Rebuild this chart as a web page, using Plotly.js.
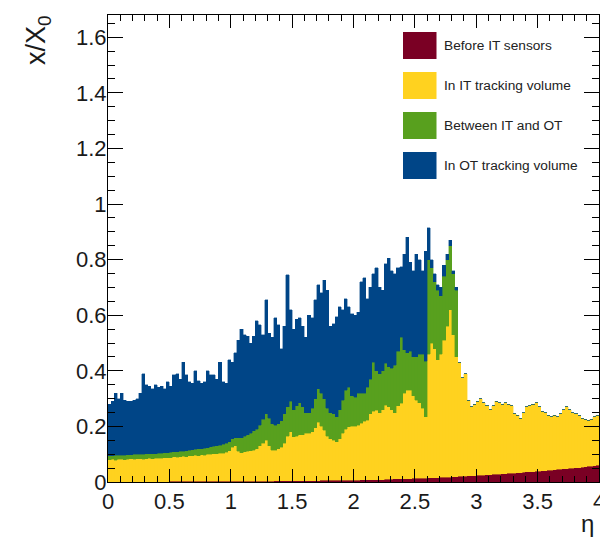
<!DOCTYPE html>
<html>
<head>
<meta charset="utf-8">
<script src="https://cdn.plot.ly/plotly-3.0.1.min.js"></script>
<style>
  html, body { margin: 0; padding: 0; background: #ffffff; }
  #chart { width: 600px; height: 539px; }
</style>
</head>
<body>
<div id="chart"></div>
<script>
// Material budget (x/X0) versus pseudorapidity, stacked by detector region.
// Histogram binning: 160 bins over 0 < eta < 4.
const ETA_MIN = 0;
const ETA_MAX = 4;
const N_BINS = 160;

const seriesNames = ["Before IT sensors", "In IT tracking volume", "Between IT and OT", "In OT tracking volume"];
const seriesColors = ["#7a0024", "#ffd21f", "#58a01e", "#004587"];

// Per-bin contributions of each region
const beforeIT = [
  0.001,0.001,0.001,0.001,0.001,0.001,0.001,0.001,0.001,0.001,0.001,0.001,0.001,0.001,0.001,0.001,0.001,0.001,0.001,0.001,
  0.002,0.002,0.002,0.002,0.002,0.002,0.002,0.002,0.002,0.002,0.002,0.002,0.002,0.002,0.002,0.002,0.002,0.002,0.002,0.002,
  0.002,0.002,0.002,0.002,0.003,0.003,0.003,0.003,0.003,0.003,0.003,0.003,0.003,0.003,0.004,0.004,0.004,0.004,0.004,0.004,
  0.004,0.004,0.004,0.005,0.005,0.005,0.005,0.005,0.005,0.006,0.006,0.006,0.006,0.006,0.006,0.007,0.007,0.007,0.007,0.007,
  0.007,0.007,0.008,0.008,0.008,0.008,0.009,0.009,0.009,0.009,0.010,0.010,0.010,0.011,0.011,0.011,0.012,0.012,0.012,0.013,
  0.013,0.013,0.014,0.014,0.015,0.015,0.016,0.016,0.017,0.017,0.018,0.018,0.019,0.019,0.020,0.020,0.021,0.022,0.022,0.023,
  0.024,0.024,0.025,0.026,0.026,0.027,0.028,0.028,0.029,0.030,0.031,0.032,0.032,0.033,0.034,0.035,0.036,0.036,0.037,0.038,
  0.039,0.040,0.041,0.042,0.043,0.044,0.045,0.046,0.047,0.048,0.049,0.050,0.051,0.052,0.053,0.054,0.056,0.057,0.059,0.060
];

const inIT = [
  0.079,0.080,0.078,0.080,0.081,0.079,0.081,0.082,0.080,0.082,0.083,0.081,0.083,0.084,0.083,0.085,0.085,0.084,0.086,0.087,
  0.086,0.088,0.087,0.089,0.090,0.089,0.092,0.092,0.094,0.093,0.096,0.095,0.098,0.097,0.100,0.099,0.102,0.101,0.105,0.110,
  0.123,0.128,0.108,0.103,0.105,0.107,0.109,0.112,0.117,0.127,0.137,0.147,0.127,0.112,0.111,0.116,0.121,0.136,0.161,0.176,
  0.158,0.161,0.166,0.165,0.170,0.171,0.175,0.190,0.210,0.194,0.181,0.159,0.149,0.144,0.139,0.148,0.168,0.183,0.191,0.193,
  0.193,0.198,0.204,0.210,0.215,0.237,0.246,0.250,0.241,0.251,0.267,0.260,0.250,0.239,0.264,0.273,0.308,0.318,0.318,0.297,
  0.282,0.272,0.251,0.221,0.445,0.485,0.464,0.424,0.443,0.493,0.542,0.602,0.511,0.431,0.410,0.355,0.369,0.273,0.248,0.257,
  0.266,0.276,0.260,0.249,0.234,0.248,0.262,0.257,0.251,0.255,0.249,0.243,0.213,0.207,0.196,0.215,0.234,0.239,0.243,0.247,
  0.231,0.215,0.209,0.198,0.192,0.196,0.190,0.199,0.213,0.222,0.211,0.200,0.194,0.188,0.177,0.171,0.166,0.168,0.176,0.180
];

const betweenITOT = [
  0.015,0.014,0.017,0.015,0.015,0.017,0.016,0.015,0.018,0.016,0.016,0.018,0.017,0.016,0.018,0.016,0.017,0.019,0.018,0.018,
  0.019,0.018,0.020,0.019,0.019,0.022,0.020,0.022,0.021,0.024,0.022,0.025,0.024,0.027,0.026,0.029,0.029,0.033,0.032,0.033,
  0.030,0.030,0.050,0.055,0.057,0.060,0.063,0.070,0.070,0.075,0.085,0.095,0.100,0.095,0.090,0.090,0.095,0.105,0.105,0.110,
  0.098,0.110,0.115,0.100,0.075,0.074,0.085,0.105,0.120,0.120,0.113,0.100,0.095,0.095,0.090,0.105,0.120,0.140,0.142,0.110,
  0.105,0.115,0.108,0.102,0.117,0.125,0.175,0.141,0.140,0.140,0.151,0.145,0.150,0.170,0.195,0.236,0.155,0.135,0.140,0.140,
  0.155,0.175,0.195,0.200,0.340,0.270,0.240,0.250,0.210,0.230,0.240,0.230,0.220,0.240,0.000,0.000,0.000,0.000,0.000,0.000,
  0.000,0.000,0.000,0.000,0.000,0.000,0.000,0.000,0.000,0.000,0.000,0.000,0.000,0.000,0.000,0.000,0.000,0.000,0.000,0.000,
  0.000,0.000,0.000,0.000,0.000,0.000,0.000,0.000,0.000,0.000,0.000,0.000,0.000,0.000,0.000,0.000,0.000,0.000,0.000,0.000
];

const inOT = [
  0.185,0.195,0.224,0.204,0.223,0.198,0.192,0.192,0.196,0.201,0.220,0.290,0.249,0.244,0.233,0.248,0.237,0.241,0.230,0.254,
  0.238,0.277,0.281,0.260,0.319,0.272,0.246,0.239,0.283,0.246,0.235,0.238,0.276,0.259,0.257,0.240,0.297,0.224,0.216,0.295,
  0.275,0.305,0.350,0.390,0.365,0.355,0.325,0.340,0.390,0.360,0.305,0.410,0.305,0.310,0.385,0.355,0.260,0.315,0.475,0.330,
  0.290,0.310,0.305,0.290,0.270,0.350,0.325,0.355,0.375,0.360,0.425,0.425,0.310,0.325,0.360,0.370,0.325,0.330,0.290,0.295,
  0.295,0.290,0.400,0.415,0.320,0.330,0.320,0.370,0.310,0.290,0.357,0.390,0.350,0.330,0.300,0.255,0.345,0.415,0.320,0.310,
  0.370,0.340,0.300,0.395,0.115,0.030,0.030,0.020,0.030,0.040,0.020,0.020,0.010,0.010,0.000,0.000,0.000,0.000,0.000,0.000,
  0.000,0.000,0.000,0.000,0.000,0.000,0.000,0.000,0.000,0.000,0.000,0.000,0.000,0.000,0.000,0.000,0.000,0.000,0.000,0.000,
  0.000,0.000,0.000,0.000,0.000,0.000,0.000,0.000,0.000,0.000,0.000,0.000,0.000,0.000,0.000,0.000,0.000,0.000,0.000,0.000
];

const seriesValues = [beforeIT, inIT, betweenITOT, inOT];

// Bin centres
const binWidth = (ETA_MAX - ETA_MIN) / N_BINS;
const eta = Array.from({ length: N_BINS }, (_, i) => ETA_MIN + (i + 0.5) * binWidth);

const traces = seriesValues.map((vals, k) => ({
  type: "bar",
  name: seriesNames[k],
  x: eta,
  y: vals,
  width: binWidth,
  marker: { color: seriesColors[k], line: { width: 0.4, color: seriesColors[k] } },
  showlegend: false,
  hoverinfo: "x+y+name"
}));

// Frame geometry in pixels
const W = 600, H = 539;
const M = { l: 108, r: 1, t: 15, b: 57 };
const plotW = W - M.l - M.r;
const plotH = H - M.t - M.b;
const px = (x) => (x - M.l) / plotW;          // pixel x -> paper x
const py = (y) => (H - M.b - y) / plotH;      // pixel y -> paper y

const FONT = "Liberation Sans, Arial, Helvetica, sans-serif";
const tickFont = { family: FONT, size: 22, color: "#1a1a1a" };

// Legend drawn as filled boxes with labels, ROOT style
const shapes = [];
const annotations = [];
seriesNames.forEach((name, k) => {
  const top = 32 + 40 * k;
  shapes.push({
    type: "rect", xref: "paper", yref: "paper",
    x0: px(403), x1: px(436.5), y0: py(top + 27), y1: py(top),
    fillcolor: seriesColors[k], line: { width: 0 }, layer: "above"
  });
  annotations.push({
    xref: "paper", yref: "paper", x: px(442), y: py(top + 13.5),
    xanchor: "left", yanchor: "middle", showarrow: false,
    text: name,
    font: { family: FONT, size: 13.7, color: "#222222" }
  });
});

// Axis titles placed at the axis ends
annotations.push({
  xref: "paper", yref: "paper", x: px(38), y: py(13),
  xanchor: "center", yanchor: "top", showarrow: false, textangle: -90,
  text: "x/X<sub>0</sub>",
  font: { family: FONT, size: 27, color: "#1a1a1a" }
});
annotations.push({
  xref: "paper", yref: "paper", x: px(596), y: py(523),
  xanchor: "right", yanchor: "middle", showarrow: false,
  text: "η",
  font: { family: FONT, size: 24, color: "#1a1a1a" }
});

const layout = {
  width: W, height: H,
  margin: M,
  paper_bgcolor: "#ffffff",
  plot_bgcolor: "#ffffff",
  barmode: "stack",
  bargap: 0,
  showlegend: false,
  xaxis: {
    range: [ETA_MIN, ETA_MAX],
    dtick: 0.5, tick0: 0,
    ticks: "inside", ticklen: 13, tickwidth: 1, tickcolor: "#000",
    minor: { dtick: 0.1, ticks: "inside", ticklen: 6, tickwidth: 1, tickcolor: "#000" },
    showline: true, linecolor: "#000", linewidth: 1, mirror: "ticks",
    showgrid: false, zeroline: false,
    ticklabeloverflow: "allow",
    tickfont: tickFont
  },
  yaxis: {
    range: [0, 1.68],
    dtick: 0.2, tick0: 0,
    ticks: "inside", ticklen: 15, tickwidth: 1, tickcolor: "#000",
    minor: { dtick: 0.05, ticks: "inside", ticklen: 7, tickwidth: 1, tickcolor: "#000" },
    showline: true, linecolor: "#000", linewidth: 1, mirror: "ticks",
    showgrid: false, zeroline: false,
    ticklabelstandoff: -4,
    tickfont: tickFont
  },
  shapes: shapes,
  annotations: annotations
};

Plotly.newPlot("chart", traces, layout, { displayModeBar: false, staticPlot: true });
</script>
</body>
</html>
